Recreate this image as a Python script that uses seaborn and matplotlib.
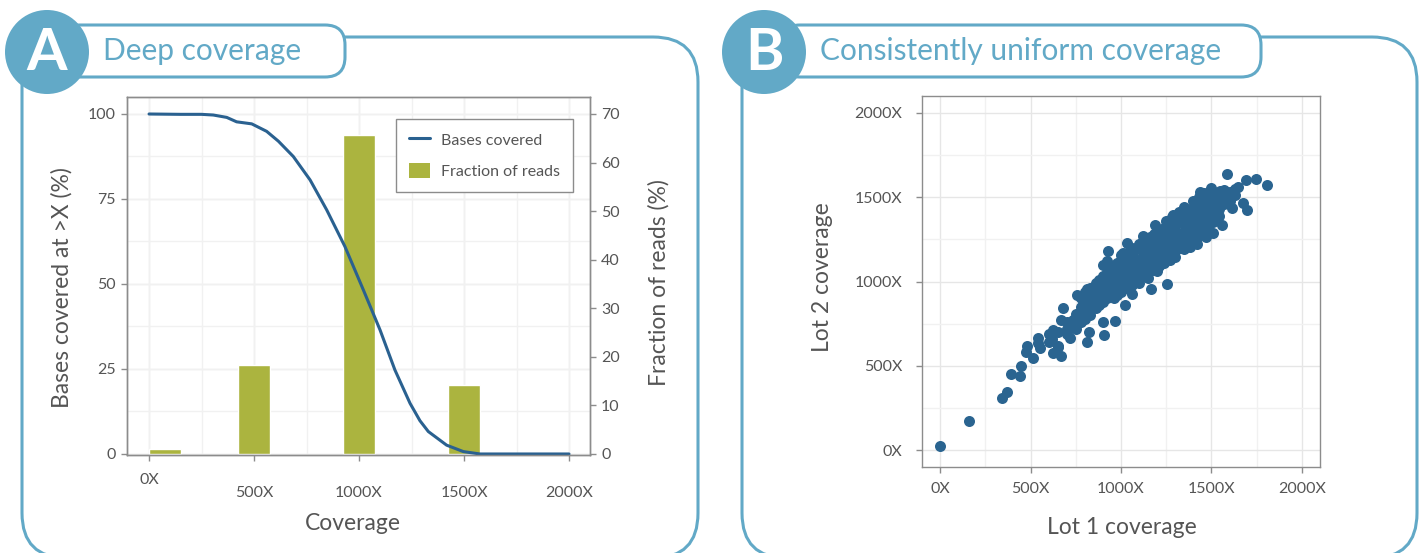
import matplotlib
matplotlib.use("Agg")
import matplotlib.pyplot as plt
import seaborn as sns
from matplotlib.patches import FancyBboxPatch, Circle, Patch
from matplotlib.lines import Line2D
from matplotlib.ticker import MultipleLocator

# ---- panel A: deep coverage ----
coverage_x = [0, 150, 250, 306, 370, 417, 489, 560, 616, 687, 767, 846, 933,
              1021, 1100, 1171, 1243, 1290, 1330, 1417, 1497, 1576, 2000]
bases_covered = [100, 99.9, 99.9, 99.7, 99.0, 97.7, 97.1, 94.9, 92.0, 87.5,
                 80.6, 71.8, 61.0, 48.2, 36.5, 24.7, 14.9, 9.8, 6.6, 2.6,
                 0.7, 0.0, 0.0]
bin_centers = [75, 500, 1000, 1500, 1750]
read_fraction = [1.0, 18.3, 65.7, 14.2, 0.15]

cov_ticks = [0, 500, 1000, 1500, 2000]
cov_labels = ["0X", "500X", "1000X", "1500X", "2000X"]
left_ticks = [0, 25, 50, 75, 100]
right_ticks = [0, 10, 20, 30, 40, 50, 60, 70]

# ---- panel B: lot 1 vs lot 2 coverage (lot1, lot2) ----
lot_pairs = [
    (0, 24), (162, 172), (344, 311), (368, 346), (390, 451), (442, 441),
    (448, 498), (479, 617), (473, 580), (512, 544), (540, 663), (553, 603),
    (543, 633), (626, 574), (654, 613), (667, 560), (626, 712), (678, 841),
    (718, 663), (667, 771), (737, 771), (737, 732), (810, 643), (825, 702),
    (906, 682), (967, 767), (902, 761), (755, 920), (810, 953), (884, 949),
    (930, 1179), (921, 1098), (1022, 860), (1059, 926), (1035, 1230),
    (1013, 1167), (1120, 1270), (1164, 957), (1252, 983), (1186, 1335),
    (1323, 1414), (1437, 1533), (1588, 1638), (1691, 1602), (1746, 1608),
    (1805, 1573), (1698, 1424), (1672, 1464), (1611, 1434), (1648, 1563),
    (1547, 1539), (1510, 1286), (1556, 1335),
    (600, 640), (600, 690), (620, 660), (650, 700), (650, 620),
    (700, 760), (700, 690), (700, 720),
    (750, 780), (750, 720), (750, 740), (750, 810),
    (780, 800), (780, 850), (780, 760), (780, 900),
    (800, 830), (800, 780), (800, 900), (800, 940), (800, 860),
    (830, 850), (830, 900), (830, 960), (830, 800),
    (860, 880), (860, 930), (860, 990), (860, 840), (860, 960),
    (880, 900), (880, 950), (880, 1010), (880, 860),
    (900, 920), (900, 970), (900, 1030), (900, 880), (900, 1100),
    (920, 940), (920, 990), (920, 1050), (920, 900), (920, 1120),
    (940, 960), (940, 1010), (940, 1070), (940, 920), (940, 1000),
    (960, 980), (960, 1030), (960, 1090), (960, 940), (960, 900),
    (980, 1000), (980, 1050), (980, 1110), (980, 960), (980, 920),
    (1000, 1020), (1000, 1070), (1000, 1130), (1000, 980), (1000, 940), (1000, 1160),
    (1030, 1040), (1030, 1090), (1030, 1150), (1030, 1000), (1030, 960),
    (1060, 1060), (1060, 1110), (1060, 1170), (1060, 1020), (1060, 980), (1060, 1200),
    (1090, 1080), (1090, 1130), (1090, 1190), (1090, 1040), (1090, 1010),
    (1120, 1100), (1120, 1150), (1120, 1210), (1120, 1060), (1120, 1030), (1120, 1240),
    (1150, 1120), (1150, 1170), (1150, 1230), (1150, 1080), (1150, 1050),
    (1180, 1140), (1180, 1190), (1180, 1250), (1180, 1100), (1180, 1070), (1180, 1280),
    (1210, 1160), (1210, 1210), (1210, 1270), (1210, 1120), (1210, 1090),
    (1240, 1180), (1240, 1230), (1240, 1290), (1240, 1140), (1240, 1110), (1240, 1320),
    (1270, 1200), (1270, 1250), (1270, 1310), (1270, 1160), (1270, 1130),
    (1300, 1220), (1300, 1270), (1300, 1330), (1300, 1180), (1300, 1360),
    (1330, 1240), (1330, 1290), (1330, 1350), (1330, 1200), (1330, 1390),
    (1360, 1260), (1360, 1310), (1360, 1370), (1360, 1220), (1360, 1410),
    (1390, 1280), (1390, 1330), (1390, 1390), (1390, 1240), (1390, 1430),
    (1420, 1300), (1420, 1350), (1420, 1410), (1420, 1260), (1420, 1450),
    (1450, 1330), (1450, 1380), (1450, 1430), (1450, 1290), (1450, 1470),
    (1480, 1360), (1480, 1410), (1480, 1460), (1480, 1320), (1480, 1500),
    (1510, 1400), (1510, 1450), (1510, 1500), (1510, 1350), (1510, 1530),
    (1540, 1430), (1540, 1480), (1540, 1520), (1540, 1390),
    (1570, 1460), (1570, 1500), (1570, 1540),
    (1600, 1480), (1600, 1530), (1630, 1510), (1630, 1550),
    (1250, 1360), (1280, 1385), (1350, 1440), (1400, 1480), (1430, 1500),
    (1460, 1525), (1500, 1555), (1350, 1190), (1380, 1205), (1420, 1225),
    (1470, 1265), (1300, 1145), (1200, 1060), (1150, 1020), (1100, 990),
    (1050, 1185), (1100, 1225), (1160, 1265), (1210, 1300), (1290, 1395),
]
lot1 = [p[0] for p in lot_pairs]
lot2 = [p[1] for p in lot_pairs]

PANEL_BLUE = "#62a9c7"
LINE_BLUE = "#2a6190"
DOT_BLUE = "#2a6490"
OLIVE = "#abb43f"
TEXT_GRAY = "#555555"
SPINE_GRAY = "#8c8c8c"
GRID_MAJOR = "#e6e6e6"
GRID_MINOR = "#f1f1f1"

sns.set_theme(style="whitegrid")
plt.rcParams["font.family"] = ["Lato", "DejaVu Sans"]

W, H = 1424, 553
fig = plt.figure(figsize=(W / 100, H / 100), dpi=100)


def px_axes(left, top, right, bottom):
    return fig.add_axes([left / W, (H - bottom) / H, (right - left) / W, (bottom - top) / H])


def style_spines(ax):
    for s in ax.spines.values():
        s.set_visible(True)
        s.set_color(SPINE_GRAY)
        s.set_linewidth(1.0)


# ---- background frames, badges and titles ----
bg = fig.add_axes([0, 0, 1, 1])
bg.set_zorder(-5)
bg.set_xlim(0, W)
bg.set_ylim(H, 0)
bg.axis("off")

for (fx, fw), (tx, tw), cx, letter, title in [
    ((22, 676), (60, 285), 47, "A", "Deep coverage"),
    ((742, 675), (780, 481), 764, "B", "Consistently uniform coverage"),
]:
    bg.add_patch(FancyBboxPatch((fx, 37), fw, 521, boxstyle="round,pad=0,rounding_size=45",
                                fc="white", ec=PANEL_BLUE, lw=2.2, zorder=1))
    bg.add_patch(FancyBboxPatch((tx, 25), tw, 52, boxstyle="round,pad=0,rounding_size=20",
                                fc="white", ec=PANEL_BLUE, lw=2.2, zorder=2))
    bg.add_patch(Circle((cx, 52), 42, fc=PANEL_BLUE, ec="none", zorder=3))
    bg.text(cx, 54, letter, color="white", fontsize=42, fontweight="bold",
            ha="center", va="center", zorder=4)
    bg.text(cx + 56, 51, title, color=PANEL_BLUE, fontsize=21.5,
            ha="left", va="center", zorder=4)

# ---- panel A ----
ax1 = px_axes(127, 97, 590, 455)
ax2 = ax1.twinx()

sns.barplot(x=bin_centers, y=read_fraction, ax=ax2, native_scale=True, orient="x",
            width=152 / 250, color=OLIVE, saturation=1, errorbar=None)
sns.lineplot(x=coverage_x, y=bases_covered, ax=ax1, color=LINE_BLUE, linewidth=2.2,
             solid_joinstyle="round", solid_capstyle="round")

ax1.set_xlim(-105, 2100)
ax1.set_ylim(-0.3, 105)
ax2.set_ylim(-0.21, 73.5)

ax1.set_zorder(ax2.get_zorder() + 1)
ax1.patch.set_visible(False)
ax1.grid(False)
ax2.patch.set_visible(True)
ax2.patch.set_facecolor("white")
ax2.xaxis.set_visible(True)
ax2.yaxis.remove_overlapping_locs = False
ax2.xaxis.remove_overlapping_locs = False
ax2.grid(False)
ax2.xaxis.set_minor_locator(MultipleLocator(250))
ax2.xaxis.set_major_locator(MultipleLocator(500))
ax2.yaxis.set_minor_locator(MultipleLocator(8.75))
ax2.grid(True, which="major", axis="x", color=GRID_MAJOR, lw=1.0)
ax2.grid(True, which="minor", axis="x", color=GRID_MINOR, lw=1.0)
ax2.grid(True, which="minor", axis="y", color=GRID_MINOR, lw=1.0)
for yv in [0, 17.5, 35, 52.5, 70]:
    ax2.axhline(yv, color=GRID_MAJOR, lw=1.0, zorder=0)
ax2.tick_params(axis="x", which="both", bottom=False, top=False, labelbottom=False, labeltop=False)
ax2.tick_params(axis="y", which="minor", length=0)
ax2.set_axisbelow(True)

ax1.set_xticks(cov_ticks)
ax1.set_xticklabels(cov_labels)
ax1.set_yticks(left_ticks)
ax1.set_yticklabels([str(v) for v in left_ticks])
ax2.set_yticks(right_ticks)
ax2.set_yticklabels([str(v) for v in right_ticks])

ax1.tick_params(axis="x", bottom=True, length=4, width=1, color=SPINE_GRAY,
                labelsize=11.5, labelcolor=TEXT_GRAY, pad=18)
ax1.tick_params(axis="y", left=True, length=4, width=1, color=SPINE_GRAY,
                labelsize=11.5, labelcolor=TEXT_GRAY, pad=4)
ax2.tick_params(axis="y", which="major", right=True, length=4, width=1, color=SPINE_GRAY,
                labelsize=11.5, labelcolor=TEXT_GRAY, pad=4)
style_spines(ax1)
style_spines(ax2)

ax1.set_xlabel("Coverage", fontsize=16.5, color=TEXT_GRAY, va="center")
ax1.xaxis.set_label_coords(0.488, -0.19)
ax1.set_ylabel("Bases covered at >X (%)", fontsize=16.5, color=TEXT_GRAY, va="center")
ax1.yaxis.set_label_coords(-0.140, 0.469)
ax2.set_ylabel("Fraction of reads (%)", fontsize=16.5, color=TEXT_GRAY, va="center")
ax2.yaxis.set_label_coords(1.149, 0.483)

handles = [Line2D([0], [0], color=LINE_BLUE, lw=2.2, label="Bases covered"),
           Patch(facecolor=OLIVE, edgecolor="none", label="Fraction of reads")]
leg = ax1.legend(handles=handles, loc="upper right", bbox_to_anchor=(0.963, 0.939),
                 borderaxespad=0, fontsize=11.5, frameon=True, fancybox=False,
                 framealpha=1, edgecolor=SPINE_GRAY, labelcolor=TEXT_GRAY,
                 handlelength=1.3, handleheight=1.1, labelspacing=0.95,
                 borderpad=0.8, handletextpad=0.7)
leg.get_frame().set_linewidth(1.0)

# the 0X label sits a little higher than the others
ax1.xaxis.get_major_ticks()[0].set_pad(9)

# ---- panel B ----
ax3 = px_axes(922, 96, 1320, 467)
sns.scatterplot(x=lot1, y=lot2, ax=ax3, s=63, color=DOT_BLUE, linewidth=0, zorder=3)
ax3.set_xlim(-100, 2100)
ax3.set_ylim(-100, 2100)
ax3.set_xticks(cov_ticks)
ax3.set_xticklabels(cov_labels)
ax3.set_yticks(cov_ticks)
ax3.set_yticklabels(cov_labels)
ax3.xaxis.set_minor_locator(MultipleLocator(250))
ax3.yaxis.set_minor_locator(MultipleLocator(250))
ax3.grid(True, which="major", color=GRID_MAJOR, lw=1.0)
ax3.grid(True, which="minor", color=GRID_MINOR, lw=1.0)
ax3.set_axisbelow(True)
ax3.tick_params(axis="both", which="minor", length=0)
ax3.tick_params(axis="x", which="major", bottom=True, length=4, width=1, color=SPINE_GRAY,
                labelsize=11.5, labelcolor=TEXT_GRAY, pad=7)
ax3.tick_params(axis="y", which="major", left=True, length=4, width=1, color=SPINE_GRAY,
                labelsize=11.5, labelcolor=TEXT_GRAY, pad=10)
style_spines(ax3)
ax3.set_xlabel("Lot 1 coverage", fontsize=16.5, color=TEXT_GRAY, va="center")
ax3.xaxis.set_label_coords(0.503, -0.164)
ax3.set_ylabel("Lot 2 coverage", fontsize=16.5, color=TEXT_GRAY, va="center")
ax3.yaxis.set_label_coords(-0.251, 0.512)

fig.savefig("out.png", dpi=100)
